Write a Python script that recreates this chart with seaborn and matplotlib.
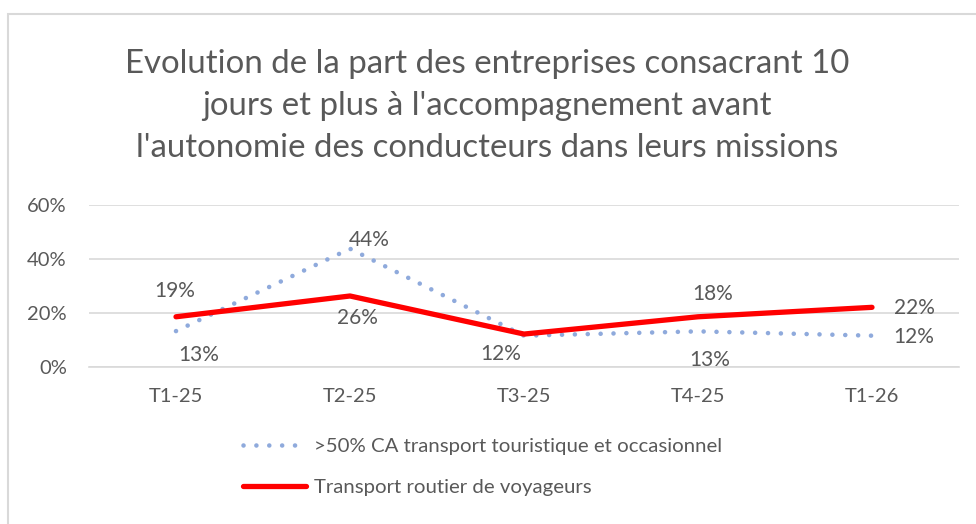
import matplotlib
matplotlib.use("Agg")
import matplotlib.pyplot as plt
import pandas as pd
import seaborn as sns
from matplotlib.patches import Rectangle

# ── données ──
trimestres = ["T1-25", "T2-25", "T3-25", "T4-25", "T1-26"]
serie_touristique = [0.133, 0.438, 0.116, 0.132, 0.116]
serie_routier = [0.186, 0.263, 0.122, 0.186, 0.221]
etiq_touristique = ["13%", "44%", "12%", "13%", "12%"]
etiq_routier = ["19%", "26%", None, "18%", "22%"]
nom_touristique = ">50% CA transport touristique et occasionnel"
nom_routier = "Transport routier de voyageurs"
titre = ("Evolution de la part des entreprises consacrant 10\n"
         "jours et plus à l'accompagnement avant\n"
         "l'autonomie des conducteurs dans leurs missions")

# décalages des étiquettes (px, y vers le haut)
dec_touristique = [(23, -24), (19, 9), (-23, -18), (12, -29), (42, -1)]
dec_routier = [(-1, 26), (7, -22), None, (15, 23), (42, -1)]

sns.set_style("white")
plt.rcParams["font.family"] = ["Lato", "DejaVu Sans"]
GRIS = "#595959"
BLEU = "#8faadc"
ROUGE = "#ff0000"

fig = plt.figure(figsize=(9.76, 5.24), dpi=100)
ax = fig.add_axes([89 / 976, 1 - 367 / 524, 870 / 976, 162 / 524])

df = pd.DataFrame({"trimestre": trimestres,
                   "touristique": serie_touristique,
                   "routier": serie_routier})

sns.lineplot(data=df, x="trimestre", y="touristique", sort=False, ax=ax,
             color=BLEU, lw=3.3, linestyle=(0, (0.01, 2.8)),
             dash_capstyle="round", label=nom_touristique)
sns.lineplot(data=df, x="trimestre", y="routier", sort=False, ax=ax,
             color=ROUGE, lw=3.8, solid_capstyle="round", label=nom_routier)

for vals, etiqs, decs in [(serie_touristique, etiq_touristique, dec_touristique),
                          (serie_routier, etiq_routier, dec_routier)]:
    for i, (v, t, d) in enumerate(zip(vals, etiqs, decs)):
        if t is None:
            continue
        ax.annotate(t, (i, v), xytext=(d[0] * 0.72, d[1] * 0.72),
                    textcoords="offset points", ha="center", va="center",
                    fontsize=15, color=GRIS)

ax.set_xlim(-0.5, len(trimestres) - 0.5)
ax.set_ylim(0, 0.6)
ax.set_yticks([0, 0.2, 0.4, 0.6])
ax.set_yticklabels(["0%", "20%", "40%", "60%"])
ax.set_xlabel("")
ax.set_ylabel("")
ax.grid(axis="y", color="#d9d9d9", lw=1.2)
ax.set_axisbelow(True)
for s in ["top", "right", "left"]:
    ax.spines[s].set_visible(False)
ax.spines["bottom"].set_color("#d9d9d9")
ax.spines["bottom"].set_linewidth(1.2)
ax.set_xticks([i - 0.5 for i in range(len(trimestres) + 1)], minor=True)
ax.tick_params(axis="x", which="major", length=0, pad=15, labelsize=14.5, labelcolor=GRIS)
ax.tick_params(axis="x", which="minor", length=5, width=1.2, color="#d9d9d9", direction="out")
ax.tick_params(axis="y", length=0, pad=16, labelsize=14.5, labelcolor=GRIS)

ax.legend_.remove()
h, l = ax.get_legend_handles_labels()
fig.legend(h, l, loc="upper left", bbox_to_anchor=(243 / 976, 1 - 438 / 524),
           frameon=False, borderpad=0, borderaxespad=0, handlelength=3.1,
           handletextpad=0.4, labelspacing=1.15, fontsize=14.7, labelcolor=GRIS)

fig.text(487 / 976, 1 - 106 / 524, titre, ha="center", va="center",
         fontsize=23.8, color=GRIS, linespacing=1.52)

fig.patches.append(Rectangle((8 / 976, -0.1), 1.2, 1 - 14 / 524 + 0.1,
                             transform=fig.transFigure, fill=False,
                             edgecolor="#d9d9d9", lw=1.5))

fig.savefig("out.png", dpi=100)
